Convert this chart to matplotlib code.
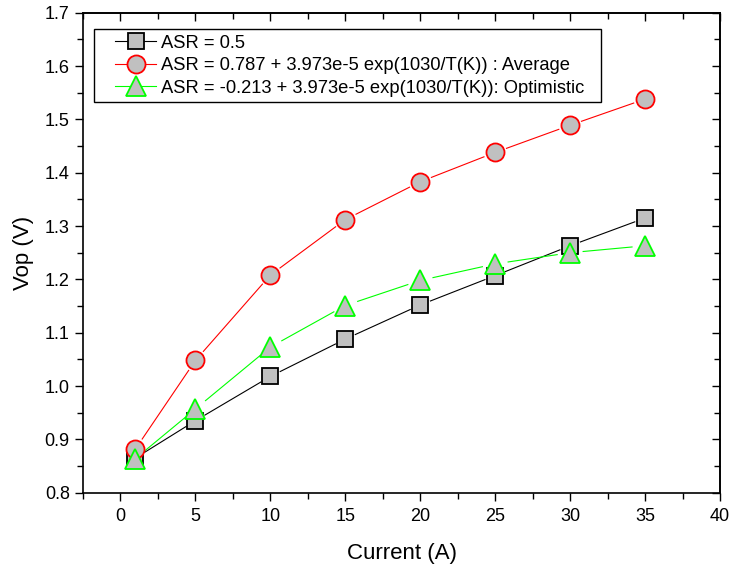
import numpy as np
import matplotlib
matplotlib.use("Agg")
from matplotlib import pyplot as plt
from matplotlib.ticker import MultipleLocator, FormatStrFormatter
from matplotlib.legend_handler import HandlerLine2D

plt.rcParams['font.family'] = ['Liberation Sans', 'DejaVu Sans']

current = [1, 5, 10, 15, 20, 25, 30, 35]
vop_const = [0.865, 0.935, 1.018, 1.088, 1.152, 1.207, 1.263, 1.315]
vop_avg = [0.882, 1.048, 1.208, 1.312, 1.383, 1.438, 1.489, 1.538]
vop_opt = [0.864, 0.957, 1.073, 1.151, 1.198, 1.229, 1.250, 1.263]

labels = ['ASR = 0.5',
          'ASR = 0.787 + 3.973e-5 exp(1030/T(K)) : Average',
          'ASR = -0.213 + 3.973e-5 exp(1030/T(K)): Optimistic']

fig = plt.figure(figsize=(7.33, 5.69), dpi=100)
ax = fig.add_axes([83 / 733, 1 - 492.7 / 569, 637 / 733, 480 / 569])
ax.set_xlim(-2.5, 40)
ax.set_ylim(0.8, 1.7)

styles = [
    dict(marker='s', color='black', ms=11.5),
    dict(marker='o', color='red', ms=13),
    dict(marker='^', color='#00ff00', ms=14.5),
]


def gapped_line(x, y, color, gap):
    # line segments stop short of each marker, like Origin does
    pts = ax.transData.transform(np.column_stack([x, y]))
    inv = ax.transData.inverted()
    for p0, p1 in zip(pts[:-1], pts[1:]):
        d = p1 - p0
        n = np.hypot(*d)
        if n <= 2 * gap:
            continue
        a = p0 + d / n * gap
        b = p1 - d / n * gap
        seg = inv.transform(np.array([a, b]))
        ax.plot(seg[:, 0], seg[:, 1], color=color, lw=0.8, zorder=2)


handles = []
for yv, st, lab in zip([vop_const, vop_avg, vop_opt], styles, labels):
    gapped_line(current, yv, st['color'], st['ms'] * 0.5 * 100 / 72 + 3)
    ax.plot(current, yv, ls='none', marker=st['marker'], ms=st['ms'],
            mfc='#c0c0c0', mec=st['color'], mew=1.3, zorder=3)
    h, = ax.plot([], [], color=st['color'], lw=0.8, marker=st['marker'],
                 ms=st['ms'], mfc='#c0c0c0', mec=st['color'], mew=1.3,
                 label=lab)
    handles.append(h)

ax.xaxis.set_major_locator(MultipleLocator(5))
ax.xaxis.set_minor_locator(MultipleLocator(2.5))
ax.yaxis.set_major_locator(MultipleLocator(0.1))
ax.yaxis.set_minor_locator(MultipleLocator(0.05))
ax.tick_params(which='major', direction='out', length=6, width=1, labelsize=13)
ax.tick_params(which='minor', direction='out', length=4, width=1)
ax.tick_params(axis='x', pad=5)
ax.yaxis.set_major_formatter(FormatStrFormatter('%.1f'))
for s in ax.spines.values():
    s.set_linewidth(1.2)

top = ax.secondary_xaxis('top')
top.xaxis.set_major_locator(MultipleLocator(5))
top.xaxis.set_minor_locator(MultipleLocator(2.5))
top.tick_params(which='major', direction='in', length=6, width=1, labeltop=False)
top.tick_params(which='minor', direction='in', length=4, width=1)
right = ax.secondary_yaxis('right')
right.yaxis.set_major_locator(MultipleLocator(0.1))
right.yaxis.set_minor_locator(MultipleLocator(0.05))
right.tick_params(which='major', direction='in', length=6, width=1, labelright=False)
right.tick_params(which='minor', direction='in', length=4, width=1)
for sec in (top, right):
    for s in sec.spines.values():
        s.set_linewidth(1.2)

ax.set_xlabel('Current (A)', fontsize=16, labelpad=13)
ax.set_ylabel('Vop (V)', fontsize=16, labelpad=8)

leg = ax.legend(handles=handles, loc='upper left',
                bbox_to_anchor=(0.0173, 0.806, 0.7954, 0.1594), mode='expand',
                fontsize=13.2, frameon=True, fancybox=False, framealpha=1,
                edgecolor='black', borderpad=0.3, labelspacing=0.3,
                handlelength=3.1, handletextpad=0.28, borderaxespad=0,
                handler_map={h: HandlerLine2D(xpad=0.85) for h in handles})
leg.get_frame().set_linewidth(1.0)

fig.savefig('out.png', dpi=100)
